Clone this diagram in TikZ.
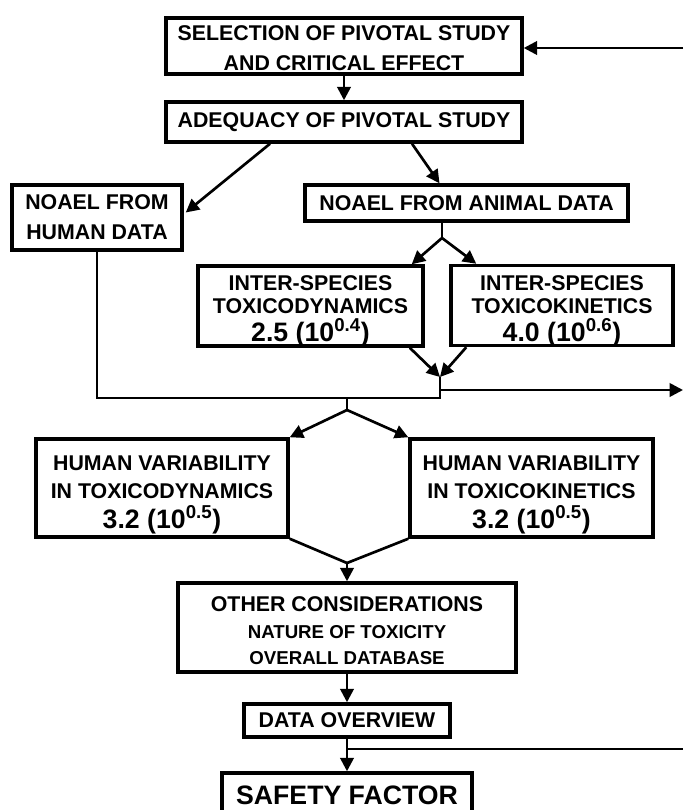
\documentclass[tikz,border=0pt]{standalone}
\usepackage{fontspec}
\setmainfont{Liberation Sans}
\usepackage{tikz}
\usetikzlibrary{arrows.meta,calc}
\newcommand{\topline}[1]{\rule{0pt}{#1}}
\newcommand{\factor}[2]{\raisebox{0pt}[\height][0pt]{\fontsize{20}{20}\selectfont #1 (10\textsuperscript{#2})}}

\begin{document}
\begin{tikzpicture}[x=0.75pt,y=-0.75pt,>={Triangle[length=10pt,width=10pt]},
  box/.style={draw,line width=2.6pt,align=center,inner sep=0pt,
    font=\bfseries\fontsize{16}{22.5}\selectfont},
  link/.style={line width=2pt},
  arr/.style={link,->}]
  \useasboundingbox (0,0) rectangle (683,810);
  \clip (0,0) rectangle (683,810);

  % boxes
  \node[box,minimum width=267pt,minimum height=42pt] (sel) at (344,46)
    {\topline{14.5pt}SELECTION OF PIVOTAL STUDY\\AND CRITICAL EFFECT};
  \node[box,minimum width=267pt,minimum height=30pt] (adeq) at (344,122)
    {ADEQUACY OF PIVOTAL STUDY};
  \node[box,minimum width=127.5pt,minimum height=48.75pt] (human) at (97,217.5)
    {NOAEL FROM\\HUMAN DATA};
  \node[box,minimum width=242.25pt,minimum height=27pt] (animal) at (466.5,203)
    {NOAEL FROM ANIMAL DATA};
  \node[box,minimum width=168.75pt,minimum height=60pt,
    font=\bfseries\fontsize{16}{17.25}\selectfont] (itd) at (310.5,306)
    {\topline{15.5pt}INTER-SPECIES\\TOXICODYNAMICS\\[2.75pt]\factor{2.5}{0.4}};
  \node[box,minimum width=166.5pt,minimum height=60pt,
    font=\bfseries\fontsize{16}{17.25}\selectfont] (itk) at (562,305.5)
    {\topline{15.5pt}INTER-SPECIES\\TOXICOKINETICS\\[2.75pt]\factor{4.0}{0.6}};
  \node[box,minimum width=189pt,minimum height=73.5pt,
    font=\bfseries\fontsize{16}{21}\selectfont] (hvd) at (162,488)
    {\topline{17.3pt}HUMAN VARIABILITY\\IN TOXICODYNAMICS\\[1.5pt]\factor{3.2}{0.5}};
  \node[box,minimum width=182.25pt,minimum height=73.5pt,
    font=\bfseries\fontsize{16}{21}\selectfont] (hvk) at (531.5,488)
    {\topline{17.3pt}HUMAN VARIABILITY\\IN TOXICOKINETICS\\[1.5pt]\factor{3.2}{0.5}};
  \node[box,minimum width=253.5pt,minimum height=66.75pt,
    font=\bfseries\fontsize{16}{20}\selectfont] (other) at (347,627.5)
    {\topline{16pt}OTHER CONSIDERATIONS\\\fontsize{14}{20}\selectfont NATURE OF TOXICITY\\
     \fontsize{14}{20}\selectfont OVERALL DATABASE};
  \node[box,minimum width=154.5pt,minimum height=24.75pt] (over) at (347,720.5)
    {DATA OVERVIEW};
  \node[box,minimum width=187.5pt,minimum height=33.75pt,
    font=\bfseries\fontsize{20}{24}\selectfont] (safety) at (347,795.5)
    {SAFETY FACTOR};

  % free ends and junctions
  \coordinate (fbin) at (683,48);
  \coordinate (fbmid) at (683,390);
  \coordinate (fbout) at (683,749);
  \coordinate (split1) at (442,238);
  \coordinate (join1) at (440,377);
  \coordinate (bus) at (440,398);
  \coordinate (split2) at (347,410);
  \coordinate (join2) at (347,563);

  % connectors
  \draw[arr] (fbin) -- (fbin -| sel.east);
  \draw[arr] (sel.south) -- (adeq.north);
  \draw[arr] ($(adeq.south)+(-74,0)$) -- ($(human.east)+(2,-5)$);
  \draw[arr] ($(adeq.south)+(68,0)$) -- ($(animal.north)+(-27,0)$);
  \draw[link] (split1 |- animal.south) -- (split1);
  \draw[arr] (split1) -- ($(itd.north east)+(-13,0)$);
  \draw[arr] (split1) -- ($(itk.north west)+(27,0)$);
  \draw[arr] ($(itd.south east)+(-15,0)$) -- (join1);
  \draw[arr] ($(itk.south west)+(17,0)$) -- (join1);
  \draw[link] (human.south) |- (bus) -- (join1);
  \draw[arr] (join1 |- fbmid) -- (fbmid);
  \draw[link] (split2 |- bus) -- (split2);
  \draw[arr] (split2) -- (hvd.north east);
  \draw[arr] (split2) -- (hvk.north west);
  \draw[link] (hvd.south east) -- (join2) -- (hvk.south west);
  \draw[arr] (join2) -- (other.north);
  \draw[arr] (other.south) -- (over.north);
  \draw[arr] (over.south) -- (safety.north);
  \draw[link] (over.south |- fbout) -- (fbout);
\end{tikzpicture}
\end{document}
